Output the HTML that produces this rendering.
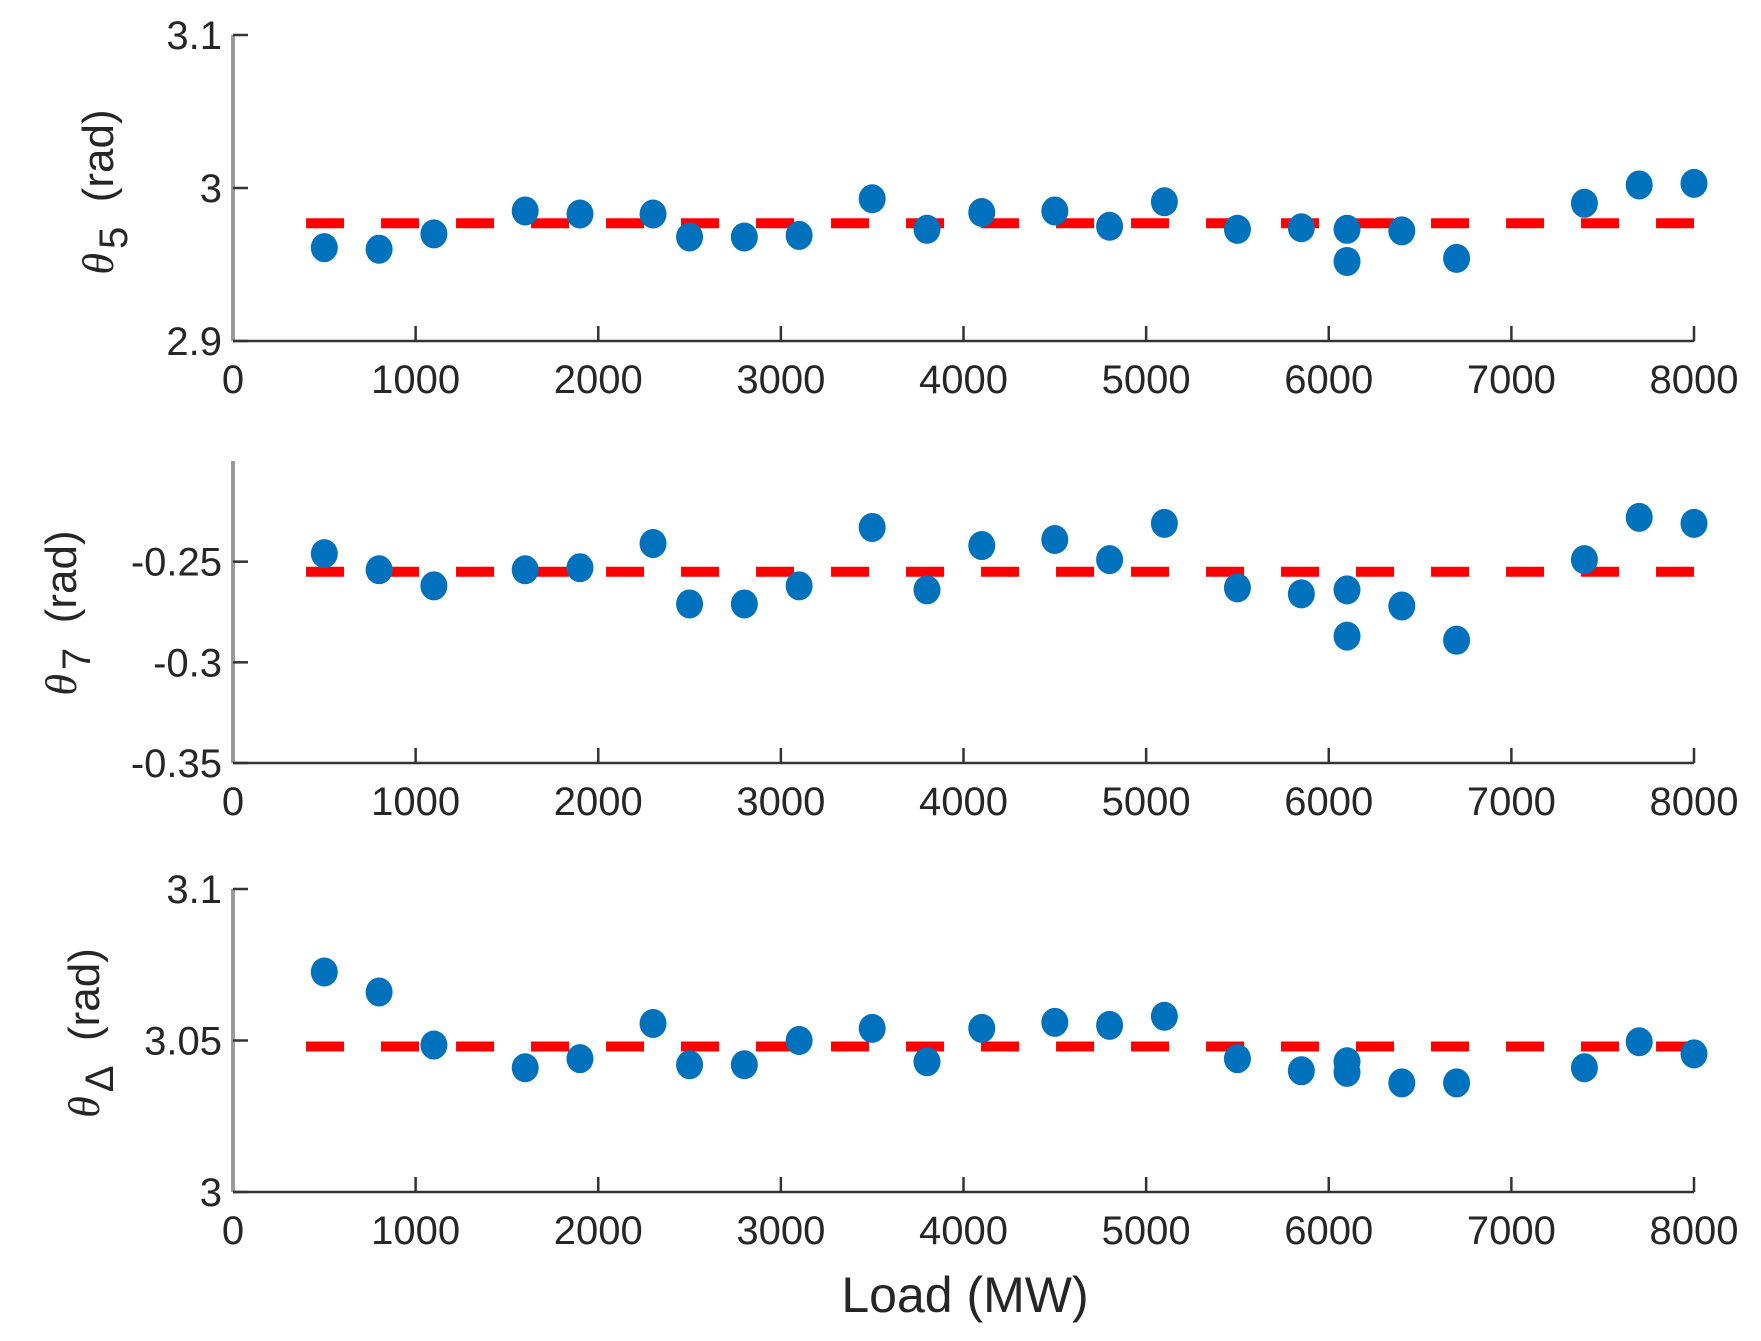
<!DOCTYPE html>
<html><head><meta charset="utf-8"><style>
html,body{margin:0;padding:0;background:#fff;}
svg{display:block;font-family:"Liberation Sans",Arial,sans-serif;}
</style></head><body>
<svg id="chart" width="1761" height="1341" viewBox="0 0 1761 1341" xmlns="http://www.w3.org/2000/svg"></svg>
<script>
const loads = [500,800,1100,1600,1900,2300,2500,2800,3100,3500,3800,4100,4500,4800,5100,5500,5850,6100,6100,6400,6700,7400,7700,8000];
const theta5 = [2.961,2.960,2.970,2.985,2.983,2.983,2.968,2.968,2.969,2.993,2.973,2.984,2.985,2.975,2.991,2.973,2.974,2.973,2.952,2.972,2.954,2.990,3.002,3.003];
const theta7 = [-0.246,-0.254,-0.262,-0.254,-0.253,-0.241,-0.271,-0.271,-0.262,-0.233,-0.264,-0.242,-0.239,-0.249,-0.231,-0.263,-0.266,-0.264,-0.287,-0.272,-0.289,-0.249,-0.228,-0.231];
const thetaD = [3.0726,3.066,3.0485,3.041,3.044,3.0556,3.042,3.042,3.050,3.054,3.043,3.054,3.056,3.055,3.058,3.044,3.040,3.043,3.0395,3.036,3.036,3.041,3.0496,3.0456];
const means = [2.977,-0.255,3.048];
const meanRange = [400,8000];
const xTicks = [0,1000,2000,3000,4000,5000,6000,7000,8000];
const yTicks1 = [2.9,3,3.1], yTickLabels1 = ["2.9","3","3.1"];
const yTicks2 = [-0.35,-0.3,-0.25], yTickLabels2 = ["-0.35","-0.3","-0.25"];
const yTicks3 = [3,3.05,3.1], yTickLabels3 = ["3","3.05","3.1"];

const NS="http://www.w3.org/2000/svg";
const svg=document.getElementById('chart');
function mk(tag,attrs,parent){const e=document.createElementNS(NS,tag);for(const k in attrs)e.setAttribute(k,attrs[k]);(parent||svg).appendChild(e);return e;}
const X0=233,X1=1694;
const xs=v=>X0+(v-0)/(8000-0)*(X1-X0);

const panels=[
 {name:'theta5',vals:theta5,mean:means[0],dom:[2.9,3.1],top:35,bot:341,ticks:yTicks1,labels:yTickLabels1,sub:'5',lx:113,ly:192},
 {name:'theta7',vals:theta7,mean:means[1],dom:[-0.35,-0.2],top:461,bot:763,ticks:yTicks2,labels:yTickLabels2,sub:'7',lx:76,ly:613},
 {name:'thetadelta',vals:thetaD,mean:means[2],dom:[3,3.1],top:889,bot:1192,ticks:yTicks3,labels:yTickLabels3,sub:'Δ',lx:99,ly:1033}
];
panels.forEach((p,pi)=>{
  const g=mk('g',{});
  
  
  const ys=v=>p.bot-(v-p.dom[0])/(p.dom[1]-p.dom[0])*(p.bot-p.top);
  const ya=mk('line',{x1:X0,y1:p.top,x2:X0,y2:p.bot,stroke:'#9a9a9a','stroke-width':4},g);
  
  
  const xa=mk('line',{x1:X0,y1:p.bot,x2:X1,y2:p.bot,stroke:'#333','stroke-width':2.5},g);
  
  
  xTicks.forEach(t=>{
    const x=xs(t);
    if(t>0){const tl=mk('line',{x1:x,y1:p.bot,x2:x,y2:p.bot-15,stroke:'#333','stroke-width':2.5},g);
      
      }
    const tx=mk('text',{x:x,y:p.bot+52,'text-anchor':'middle','font-size':40,fill:'#262626'},g);
    tx.textContent=t;
    
    
  });
  p.ticks.forEach((t,i)=>{
    const y=ys(t);
    const tl=mk('line',{x1:X0,y1:y,x2:X0+15,y2:y,stroke:'#333','stroke-width':2.5},g);
    
    
    const tx=mk('text',{x:222,y:y+14,'text-anchor':'end','font-size':40,fill:'#262626'},g);
    tx.textContent=p.labels[i];
    
    
  });
  const lab=mk('text',{transform:`translate(${p.lx},${p.ly}) rotate(-90)`,'text-anchor':'middle','font-size':44,fill:'#262626'},g);
  
  
  const t1=mk('tspan',{'font-style':'italic','font-family':'"Liberation Serif",serif'},lab);t1.textContent='θ';
  const t2=mk('tspan',{dy:14,dx:4,'font-size':40},lab);t2.textContent=p.sub;
  const t3=mk('tspan',{dy:-14},lab);t3.textContent='\u00a0\u00a0(rad)';
  const ml=mk('line',{x1:xs(meanRange[0]),y1:ys(p.mean),x2:xs(meanRange[1]),y2:ys(p.mean),stroke:'#ff0000','stroke-width':10,'stroke-dasharray':'38 37'},g);
  
  
  loads.forEach((L,i)=>{
    const c=mk('ellipse',{cx:xs(L),cy:ys(p.vals[i]),rx:13.5,ry:14.5,fill:'#0072BD'},g);
    
    
  });
});
const xl=mk('text',{x:965,y:1312,'text-anchor':'middle','font-size':50,fill:'#262626'});
xl.textContent='Load (MW)';


</script>
</body></html>
